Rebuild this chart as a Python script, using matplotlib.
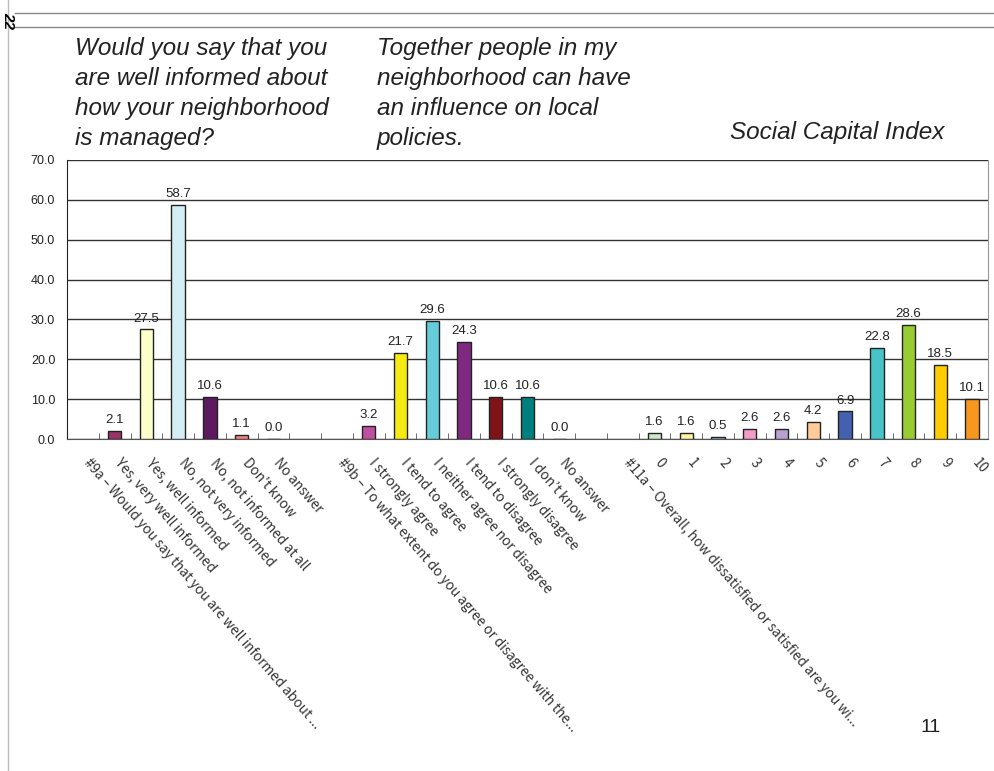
import numpy as np
import matplotlib
matplotlib.use('Agg')
import matplotlib.pyplot as plt
from matplotlib.transforms import ScaledTranslation

# category labels along the x axis (blank slots separate the three questions)
labels = ['#9a \u2013 Would you say that you are well informed about ...',
          'Yes, very well informed', 'Yes, well informed', 'No, not very informed',
          'No, not informed at all', "Don't know", 'No answer', '',
          '#9b \u2013 To what extent do you agree or disagree with the...',
          'I strongly agree', 'I tend to agree', 'I neither agree nor disagree',
          'I tend to disagree', 'I strongly disagree', 'I don\u2019t know', 'No answer', '',
          '#11a \u2013 Overall, how dissatisfied or satisfied are you wi...',
          '0', '1', '2', '3', '4', '5', '6', '7', '8', '9', '10']

# values (None = no bar)
values = [None, 2.1, 27.5, 58.7, 10.6, 1.1, 0.0, None,
          None, 3.2, 21.7, 29.6, 24.3, 10.6, 10.6, 0.0, None,
          None, 1.6, 1.6, 0.5, 2.6, 2.6, 4.2, 6.9, 22.8, 28.6, 18.5, 10.1]

colors = [None, '#993366', '#ffffcc', '#d4eef6', '#5e1a5e', '#ff7f7f', '#ffffff', None,
          None, '#bf4f9f', '#f5ea12', '#66ccdc', '#7f2a80', '#7f1418', '#007f7f', '#ffffff', None,
          None, '#cce8c8', '#fff5a0', '#9cc8f0', '#f49cc8', '#b8a0d0', '#ffcc99', '#4361ae',
          '#48c4c8', '#99cc33', '#ffcc00', '#f7971e']

titles = ['Would you say that you\nare well informed about\nhow your neighborhood\nis managed?',
          'Together people in my\nneighborhood can have\nan influence on local\npolicies.',
          'Social Capital Index']

fig = plt.figure(figsize=(9.94, 7.71), dpi=100)
ax = fig.add_axes([67/994, 1-439/771, 921/994, 279/771])

x = np.arange(len(labels))
for i, v in enumerate(values):
    if v is None:
        continue
    ax.bar(i, v, width=0.42, color=colors[i], edgecolor='#222222', linewidth=1, zorder=3)
    ax.text(i, v + 1.2, '%.1f' % v, ha='center', va='bottom', fontsize=9.5,
            family='Liberation Sans', color='#222222', zorder=4)

ax.set_xlim(-0.5, len(labels) - 0.5)
ax.set_ylim(0, 70)
ax.set_yticks(np.arange(0, 71, 10))
ax.set_yticklabels(['%.1f' % t for t in np.arange(0, 71, 10)], fontsize=9,
                   family='Liberation Sans', color='#222222')
ax.tick_params(axis='y', length=0, pad=8.5)
ax.yaxis.grid(True, color='#333333', linewidth=1)
ax.set_axisbelow(True)

# x labels drawn by hand so they can start a little right of each slot centre
ax.set_xticks(x)
ax.set_xticklabels([])
ax.tick_params(axis='x', length=0)
ax.set_xticks(np.arange(0.5, len(labels) - 0.5), minor=True)
ax.tick_params(axis='x', which='minor', direction='in', length=4, color='#555555')
off = ScaledTranslation(6/72, -12/72, fig.dpi_scale_trans)
for i, lab in enumerate(labels):
    ax.text(i, 0, lab, transform=ax.get_xaxis_transform() + off, rotation=-49,
            ha='left', va='top', rotation_mode='anchor', fontsize=9.8, color='#333333',
            family=['Noto Sans CJK JP', 'DejaVu Sans'])

ax.spines['left'].set_color('#222222')
ax.spines['bottom'].set_color('#555555')
ax.spines['right'].set_color('#999999')
ax.spines['top'].set_visible(False)

# question titles
for xp, t in zip([75, 377], titles[:2]):
    fig.text(xp/994, 1-37/771, t, ha='left', va='top', fontsize=17.5, style='italic',
             family='Liberation Sans', color='#222222', linespacing=1.38)
fig.text(730/994, 1-132/771, titles[2], ha='left', va='center', fontsize=17.5, style='italic',
         family='Liberation Sans', color='#222222')
fig.text(920/994, 1-727/771, '11', ha='left', va='center', fontsize=14,
         family='Liberation Sans', color='#222222')

# page frame decorations
fig.add_artist(plt.Line2D([15/994, 1], [1-13/771, 1-13/771], color='#888888', lw=1))
fig.add_artist(plt.Line2D([15/994, 1], [1-27/771, 1-27/771], color='#888888', lw=1))
fig.add_artist(plt.Line2D([8/994, 8/994], [0, 1], color='#bbbbbb', lw=1))
fig.text(1/994, 1-20/771, '22', rotation=-90, ha='left', va='center', fontsize=11,
         fontweight='bold', style='italic', family='Liberation Sans')

fig.savefig('out.png', dpi=100)
